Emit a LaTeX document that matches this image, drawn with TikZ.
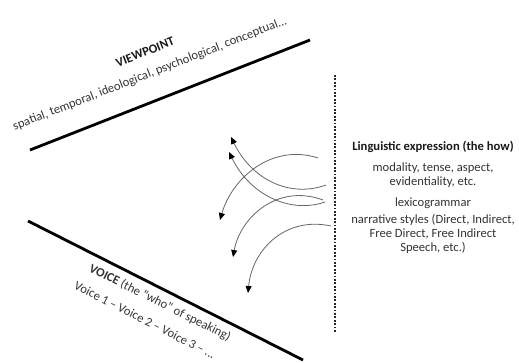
\documentclass[tikz,border=0pt]{standalone}
\usepackage{fontspec}
\setmainfont{Carlito}
\usetikzlibrary{arrows.meta}
\begin{document}
\begin{tikzpicture}[x=1pt,y=-1pt,
  txt/.style={font=\fontsize{12.6}{14}\selectfont, text=black!80, inner sep=0pt, align=center},
  bold/.style={txt, font=\fontsize{12.6}{14}\selectfont\bfseries, text=black!90},
  mainline/.style={line width=2.8pt, black},
  dotline/.style={line width=1.8pt, dash pattern=on 1.8pt off 1.6pt, black!85},
  arr/.style={draw=black!60, line width=0.8pt, -{Triangle[length=7pt,width=6pt,fill=black,color=black]}}
]
\useasboundingbox (0,0) rectangle (519,362);
% main lines
\coordinate (t1) at (30,150);
\coordinate (t2) at (310,40);
\coordinate (b1) at (28,221);
\coordinate (b2) at (303,360);
\coordinate (d1) at (335,75);
\coordinate (d2) at (335,332);
\draw[mainline] (t1) -- (t2);
\draw[mainline] (b1) -- (b2);
\draw[dotline] (d1) -- (d2);
% rotated labels
\node[bold, rotate=21.4] (vp) at (145,52) {VIEWPOINT};
\node[txt, rotate=21.3] (vpl) at (150,74) {spatial, temporal, ideological, psychological, conceptual...};
\node[txt, rotate=-26.5] (vo) at (160,303) {\textbf{VOICE} (the “who” of speaking)};
\node[txt, rotate=-27] (vol) at (145,320) {Voice 1 – Voice 2 – Voice 3 – ...};
% right text
\node[bold] (le) at (433,147) {Linguistic expression (the how)};
\node[txt] (mo) at (433,175) {modality, tense, aspect,\\evidentiality, etc.};
\node[txt] (lx) at (433,203) {lexicogrammar};
\node[txt] (na) at (433,234) {narrative styles (Direct, Indirect,\\Free Direct, Free Indirect\\Speech, etc.)};
% arrows
\coordinate (a1) at (326,185); \coordinate (a2) at (231,137);
\coordinate (b1s) at (325,202); \coordinate (b2e) at (229,152);
\coordinate (c1) at (318,158); \coordinate (c2) at (220,220);
\coordinate (e1) at (323,200); \coordinate (e2) at (233,257);
\coordinate (f1) at (331,226); \coordinate (f2) at (248,293);
\draw[arr] (a1) .. controls (290,198) and (252,180) .. (a2);
\draw[arr] (b1s) .. controls (290,214) and (250,195) .. (b2e);
\draw[arr] (c1) .. controls (272,143) and (232,178) .. (c2);
\draw[arr] (e1) .. controls (277,183) and (240,218) .. (e2);
\draw[arr] (f1) .. controls (285,216) and (252,250) .. (f2);
\end{tikzpicture}
\end{document}
